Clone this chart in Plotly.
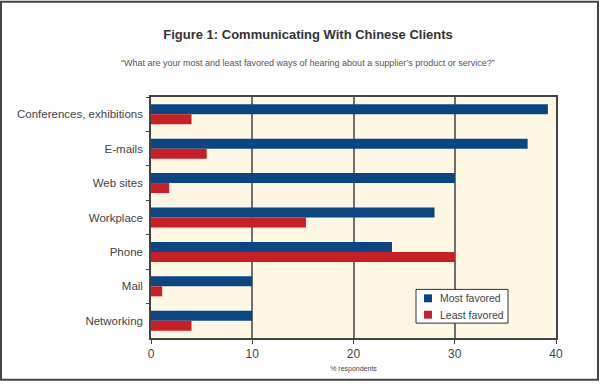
import plotly.graph_objects as go

categories = ["Conferences, exhibitions", "E-mails", "Web sites", "Workplace", "Phone", "Mail", "Networking"]
most_favored = [39.2, 37.2, 30.0, 28.0, 23.8, 10.0, 10.0]
least_favored = [4.0, 5.5, 1.8, 15.3, 30.0, 1.1, 4.0]
series_names = ["Most favored", "Least favored"]
x_ticks = [0, 10, 20, 30, 40]

BLUE = "#0A4683"
RED = "#C81E24"
TXT = "#444444"
colors = [BLUE, RED]

fig = go.Figure()
for name, vals, col in zip(series_names, [most_favored, least_favored], colors):
    fig.add_trace(go.Bar(y=categories, x=vals, orientation="h", name=name,
                         marker=dict(color=col, line=dict(width=0))))

L, R, T, B = 151, 44, 97, 44
W, H = 600, 384
pw, ph = W - L - R, H - T - B

def px(x):
    return (x - L) / pw

def py(y):
    return (H - B - y) / ph

shapes = [
    dict(type="rect", xref="paper", yref="paper", x0=px(1), x1=px(598), y0=py(1), y1=py(382),
         line=dict(color="#444444", width=2), fillcolor="rgba(0,0,0,0)", layer="below"),
    # legend box
    dict(type="rect", xref="paper", yref="paper", x0=px(416), x1=px(508), y0=py(291), y1=py(325),
         line=dict(color="#333333", width=1), fillcolor="white", layer="above"),
]
annotations = [
    dict(text="“What are your most and least favored ways of hearing about a supplier’s product or service?”",
         xref="paper", yref="paper", x=px(308), y=py(63), xanchor="center", yanchor="middle",
         showarrow=False, font=dict(family="Liberation Sans, sans-serif", size=9, color="#555555")),
]
for i, (name, col) in enumerate(zip(series_names, colors)):
    cy = 300 + i * 16.5
    shapes.append(dict(type="rect", xref="paper", yref="paper", x0=px(424), x1=px(432),
                       y0=py(cy + 4), y1=py(cy - 4), line=dict(width=0), fillcolor=col, layer="above"))
    annotations.append(dict(text=name, xref="paper", yref="paper", x=px(438), y=py(cy),
                            xanchor="left", yanchor="middle", showarrow=False,
                            font=dict(size=10.5, color=TXT)))

fig.update_layout(
    width=W, height=H,
    margin=dict(l=L, r=R, t=T, b=B, pad=0),
    paper_bgcolor="white",
    plot_bgcolor="#FDF7E3",
    barmode="group",
    bargap=0.42,
    bargroupgap=0,
    font=dict(family="Liberation Sans, Arial, sans-serif", color=TXT, size=12),
    title=dict(text="<b>Figure 1: Communicating With Chinese Clients</b>",
               x=308 / W, xanchor="center", y=1 - 34 / H, yanchor="middle",
               font=dict(family="Liberation Sans, sans-serif", size=13, color="#333333")),
    showlegend=False,
    annotations=annotations,
    shapes=shapes,
)

fig.update_xaxes(
    range=[0, 40], tickvals=x_ticks, ticktext=[str(v) for v in x_ticks],
    showgrid=True, gridcolor="#707070", gridwidth=1.5,
    showline=True, linecolor="#444444", linewidth=1.5, mirror=True,
    ticks="outside", ticklen=4, tickcolor="#444444", zeroline=False,
    tickfont=dict(size=12, color=TXT),
    title=dict(text="% respondents", font=dict(size=7, color=TXT), standoff=6),
)
fig.update_yaxes(
    autorange="reversed", type="category",
    showline=True, linecolor="#444444", linewidth=1.5, mirror=True,
    ticks="outside", ticklen=3, tickcolor="#444444", tickson="boundaries",
    showgrid=False, tickfont=dict(size=11.5, color=TXT), ticklabelstandoff=4,
)

fig.write_html("out.html", config={"displayModeBar": False},
               post_script="document.body.style.margin='0';document.body.style.overflow='hidden';")
